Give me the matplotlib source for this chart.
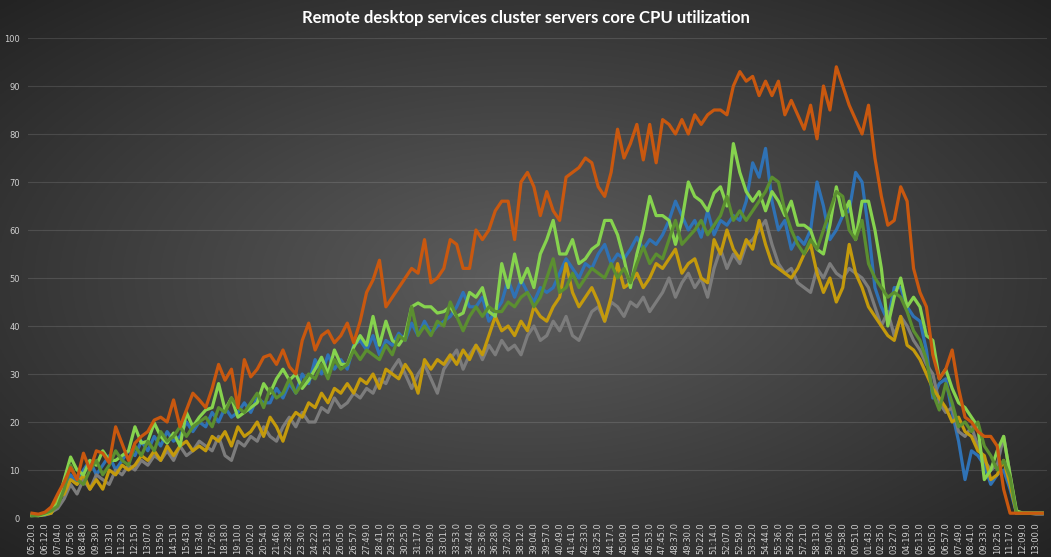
import numpy as np
import matplotlib
matplotlib.use("Agg")
import matplotlib.pyplot as plt

# time stamps shown under the x axis (one every second sample)
time_labels = [
    "05:20.0", "06:12.0", "07:04.0", "07:56.0", "08:48.0", "09:39.0", "10:31.0", "11:23.0",
    "12:15.0", "13:07.0", "13:59.0", "14:51.0", "15:43.0", "16:34.0", "17:26.0", "18:18.0",
    "19:10.0", "20:02.0", "20:54.0", "21:46.0", "22:38.0", "23:30.0", "24:22.0", "25:13.0",
    "26:05.0", "26:57.0", "27:49.0", "28:41.0", "29:33.0", "30:25.0", "31:17.0", "32:09.0",
    "33:01.0", "33:53.0", "34:44.0", "35:36.0", "36:28.0", "37:20.0", "38:12.0", "39:04.0",
    "39:57.0", "40:49.0", "41:41.0", "42:33.0", "43:25.0", "44:17.0", "45:09.0", "46:01.0",
    "46:53.0", "47:45.0", "48:37.0", "49:30.0", "50:22.0", "51:14.0", "52:07.0", "52:59.0",
    "53:52.0", "54:44.0", "55:36.0", "56:29.0", "57:21.0", "58:13.0", "59:06.0", "59:58.0",
    "00:51.0", "01:43.0", "02:35.0", "03:27.0", "04:19.0", "05:13.0", "06:05.0", "06:57.0",
    "07:49.0", "08:41.0", "09:33.0", "10:25.0", "11:17.0", "12:09.0", "13:00.0",
]

# CPU % per server
srv_orange = [
    1, 0.8, 1.2, 2.3, 5, 7.5, 10.5, 8, 13.5, 10,
    14, 13.5, 11.5, 19, 15.5, 12, 15.6, 17, 18, 20.4,
    21, 20, 24.6, 19, 22.5, 26, 24.6, 23, 27, 32,
    28.7, 31, 23, 33, 29.4, 31, 33.5, 34, 32, 35,
    31.5, 30, 37, 40.6, 35, 38, 39, 36.5, 38, 40.6,
    36.5, 41, 47, 49.6, 53.7, 44, 46, 48, 50, 52,
    51, 58, 49, 50, 52, 58, 57, 52, 52, 60,
    58, 60, 64, 66, 66, 58, 70, 72, 69, 63,
    68, 64, 62, 71, 72, 73, 75, 74, 69, 67,
    72, 81, 75, 78, 82, 74.6, 82, 74, 83, 82,
    80, 83, 80, 84, 82, 84, 85, 85, 84, 90,
    93, 91, 92, 88, 91, 88, 91, 84, 87, 84,
    81, 86, 79, 90, 85, 94, 90, 86, 83, 80,
    86, 75, 67, 61, 62, 69, 66, 52, 47, 44,
    34, 29, 31, 35, 27, 21, 20, 18, 17, 17,
    15, 6, 1, 1, 1, 1, 1, 1,
]
srv_lightgreen = [
    0.5, 0.5, 0.8, 1.5, 3, 8, 12.7, 10, 9, 12,
    11, 14, 12, 12, 13, 14, 19, 15.6, 16, 19.8,
    17, 15.6, 17.7, 15, 22, 19, 21, 22.5, 23, 28,
    22.5, 25, 21, 22, 23, 24, 28, 26, 29, 31,
    28.7, 30, 27, 28.7, 31, 33.5, 30, 35, 32, 32,
    35.6, 38, 36, 42, 36, 41, 37, 36, 38, 44,
    44.8, 44, 44, 42.7, 43, 44, 42, 42.7, 47, 46,
    48, 43, 42, 53, 48, 55, 49, 52, 48, 55,
    58, 62, 55, 55, 58, 53, 54, 56, 57, 62,
    62, 59, 54, 48, 55, 60, 67, 63, 63, 62,
    57, 62, 70, 67, 66, 64, 67.7, 69, 65, 78,
    72, 68, 66, 68, 64, 68, 66, 63, 66, 61,
    61, 60, 56, 55, 61, 69, 63, 66, 58, 66,
    66, 60, 52, 40, 46, 50, 44, 46, 44, 38,
    37, 29, 31, 27, 24, 23, 21, 19, 8, 10,
    14, 17, 9, 1.5, 1, 1, 1, 1,
]
srv_blue = [
    0.8, 0.5, 0.6, 1, 3, 6, 9, 7, 10, 12,
    9, 11, 13, 10, 12, 14, 13, 16, 14, 17,
    15, 18, 16, 17, 20, 18, 20, 19, 22, 20,
    23, 21, 22, 24, 22, 25, 24, 24, 27, 25,
    28, 26, 30, 28, 33, 30, 34, 31, 33, 31,
    36, 37, 35, 38, 34, 37, 36, 38.5, 37, 40.6,
    38, 41, 38.5, 40, 41, 42, 44, 47, 44, 44,
    46, 41, 43, 45, 49.6, 46, 49.6, 47, 45, 48,
    47, 48, 51, 54, 52, 50, 53, 52, 55, 57,
    53, 55, 54, 56, 58.5, 56, 58, 57, 59, 62,
    66, 63, 60, 62, 58.5, 64, 59, 62, 61, 63,
    62, 66, 74, 71, 77, 66, 60, 62, 56, 58.5,
    57, 60, 70, 65, 58, 60, 63, 64, 72, 70,
    60, 48, 44, 41, 48, 48, 44, 42, 41, 35,
    25, 28, 29, 22, 16, 8, 14, 13, 11, 7,
    9, 10, 6, 1, 1, 1, 1, 1,
]
srv_darkgreen = [
    0.5, 0.6, 1, 1.5, 2.5, 6, 11, 8, 7, 10,
    12, 9, 11, 14, 12, 11, 15, 13, 16, 14,
    18, 16, 17, 19, 17, 19, 20, 21, 19, 23,
    22, 25, 23, 22, 24, 26, 23, 27, 25, 26,
    29, 26, 28, 30, 29, 32, 29, 33, 31, 32,
    35, 33, 35, 34, 33, 36, 34, 38, 37, 44,
    38, 40, 38, 41, 40, 45, 42, 39, 42, 44,
    42, 44, 43, 43, 45, 44, 46, 47, 44, 46,
    50, 54, 47, 48, 51, 48, 50, 52, 51, 50,
    53, 50, 52, 49, 53, 56.5, 53, 55, 54, 58,
    62, 57, 58.5, 60, 62, 59, 61, 63, 67, 62,
    64, 62, 64, 66, 68, 71, 70, 64, 60, 57,
    55, 58, 56, 60, 64, 68, 67, 60, 58, 62,
    53, 50, 48, 46, 47, 46, 43, 39, 37, 33,
    26, 22.5, 28, 24, 19, 20, 18, 20, 15, 13,
    10, 12, 8.5, 1, 1, 1, 1, 1,
]
srv_gray = [
    0.5, 0.6, 0.8, 1.2, 2, 4, 7, 5, 8, 6,
    9, 8, 7, 10, 9, 11, 10, 12, 11, 13,
    12, 14, 12, 15, 13, 14, 16, 15, 14, 17,
    13, 12, 16, 15, 17, 16, 19, 17, 16, 19,
    21, 19, 22, 20, 20, 23, 22, 25, 23, 24,
    26, 25, 27, 26, 29, 28, 31, 33, 30, 27,
    30, 32, 29, 26, 31, 33, 35, 31, 34, 36,
    33, 36, 34, 37, 35, 36, 34, 38, 40, 37,
    38, 41, 39, 42, 38, 37, 40, 43, 44, 41,
    45, 44, 42, 45, 44, 46, 43, 45, 47, 50,
    46, 49, 51, 48, 50, 46, 52, 56, 52, 55,
    53, 57, 58, 60, 62, 57, 53, 51, 52, 49,
    48, 47, 52, 50, 53, 51, 50, 52, 51, 50,
    48, 44, 40, 43, 38, 42, 40, 37, 35, 32,
    30, 24, 22, 23, 18, 17, 19, 15, 12, 10,
    11, 17, 9, 1, 1, 1, 0.8, 0.8,
]
srv_gold = [
    0.6, 0.5, 0.7, 1, 4, 5, 8, 7, 9, 6,
    8, 6, 10, 9, 11, 10, 11, 13, 12, 14,
    12, 15, 13, 15, 16, 14, 15, 14, 17, 16,
    18, 15, 19, 17, 18, 20, 17, 21, 19, 16,
    20, 22, 21, 24, 23, 26, 24, 27, 26, 28,
    26, 29, 28, 30, 27, 31, 30, 29, 32, 30,
    26, 33, 31, 33, 32, 34, 32, 35, 33, 36,
    34, 38, 42, 39, 40, 38, 41, 39, 44, 42,
    41, 44, 46, 53, 47, 44, 46, 48, 45, 41,
    46, 53, 48, 49, 51, 48, 50, 53, 52, 54,
    56, 51, 53, 54, 50, 49, 58, 55, 60, 56,
    54, 58, 56, 62, 57, 53, 52, 51, 50, 52,
    55, 57, 51, 47, 50, 45, 48, 57, 51, 48,
    44, 42, 40, 38, 37, 42, 36, 35, 33, 30,
    27, 25, 23, 20, 21, 18, 17, 14, 13, 8,
    9, 12, 7, 1, 1, 1, 1, 1,
]

W, H = 1051, 557
fig = plt.figure(figsize=(W / 100, H / 100), dpi=100)

# dark radial backdrop
bg = fig.add_axes([0, 0, 1, 1])
yy, xx = np.mgrid[0:1:300j, 0:1:560j]
r = np.sqrt(((xx - 0.5) / 0.72) ** 2 + ((yy - 0.5) / 0.72) ** 2)
r = np.clip(r, 0, 1)
c_in = np.array([0x5e, 0x5e, 0x5e]) / 255
c_out = np.array([0x22, 0x22, 0x22]) / 255
img = c_in[None, None, :] * (1 - r[..., None]) + c_out[None, None, :] * r[..., None]
bg.imshow(img, aspect="auto", extent=[0, 1, 0, 1], origin="lower")
bg.axis("off")

ax = fig.add_axes([28 / W, 39 / H, 1019 / W, 480 / H])
ax.set_facecolor("none")

x = np.arange(len(srv_orange))
series = [
    (srv_blue, "#2f72b5"),
    (srv_gray, "#7c7c7c"),
    (srv_gold, "#c49a0c"),
    (srv_lightgreen, "#86d34e"),
    (srv_darkgreen, "#5b8f30"),
    (srv_orange, "#c9580f"),
]
for vals, col in series:
    ax.plot(x, vals, color=col, lw=2.3, solid_joinstyle="round")

ax.set_ylim(0, 100)
ax.set_xlim(-0.62, 157.74)
ax.set_yticks(range(0, 101, 10))
ax.set_xticks(x[::2][:len(time_labels)])
ax.set_xticklabels(time_labels, rotation=90)
ax.tick_params(axis="both", length=0, labelsize=6, colors="#d0d0d0")
ax.tick_params(axis="y", pad=6)
ax.tick_params(axis="x", pad=3)
ax.grid(axis="y", color="#ffffff", alpha=0.12, lw=0.8)
ax.set_axisbelow(True)
for s in ax.spines.values():
    s.set_visible(False)

fig.text(0.5, 1 - 18 / H, "Remote desktop services cluster servers core CPU utilization",
         ha="center", va="center", color="white", fontsize=12, fontweight="bold",
         family="Lato")

fig.savefig("out.png", dpi=100)
